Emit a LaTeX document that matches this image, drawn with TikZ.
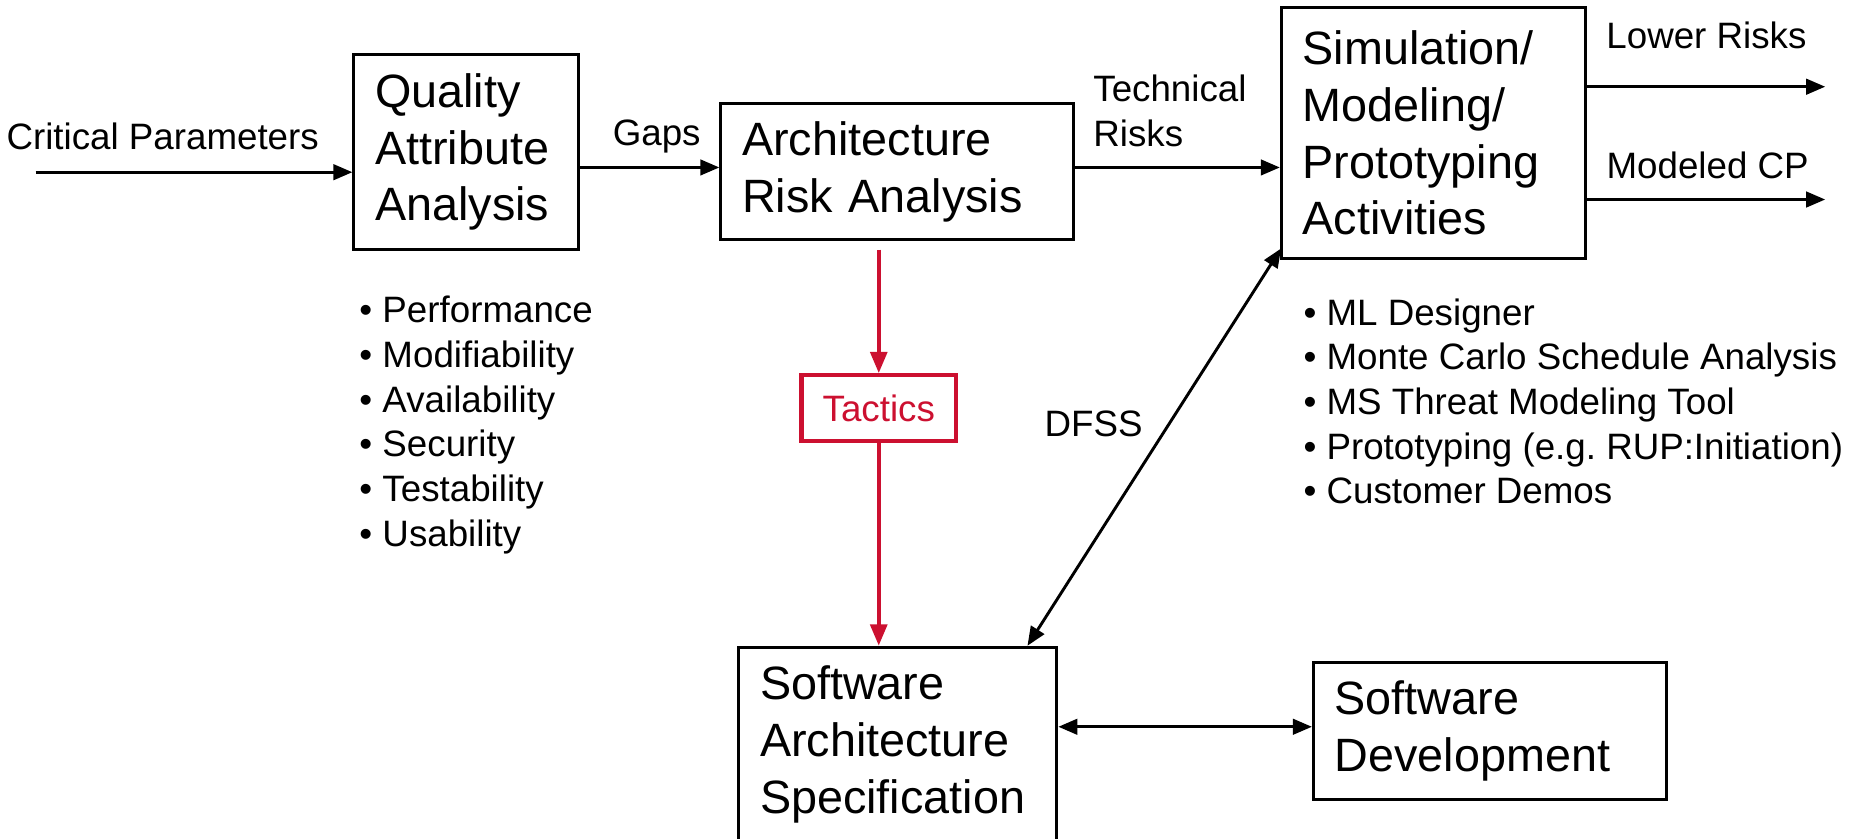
\documentclass[tikz,border=0pt]{standalone}
\usepackage{fontspec}
\setmainfont{Liberation Sans}
\usepackage{tikz}
\usetikzlibrary{arrows.meta}

\definecolor{tacticsred}{RGB}{204,16,48}
\frenchspacing

\begin{document}
\begin{tikzpicture}[
    box/.style={
        draw,
        line width=0.7pt,
        align=left,
        anchor=center,
        inner xsep=0.18cm,
        inner ysep=0pt,
        font=\fontsize{11.2}{13.6}\selectfont
    },
    tag/.style={
        align=left,
        inner sep=0pt,
        font=\fontsize{8.8}{10.7}\selectfont
    },
    arrow/.style={
        -{Triangle[length=0.16cm,width=0.13cm]},
        line width=0.7pt
    },
    twoway/.style={
        {Triangle[length=0.16cm,width=0.13cm]}-{Triangle[length=0.16cm,width=0.13cm]},
        line width=0.7pt
    },
    redarrow/.style={
        -{Triangle[length=0.18cm,width=0.14cm]},
        line width=1pt,
        draw=tacticsred
    }
]
\useasboundingbox (0,0) rectangle (15.68,-7.06);

% main boxes
\node[box, text width=1.53cm, minimum height=1.64cm] (qaa) at (3.925,-1.28)
{Quality\\Attribute\\Analysis};

\node[box, text width=2.61cm, minimum height=1.15cm] (ara) at (7.555,-1.445)
{Architecture\\Risk Analysis};

\node[box, text width=2.20cm, minimum height=2.12cm] (smp) at (12.07,-1.12)
{Simulation/\\Modeling/\\Prototyping\\Activities};

\node[box, text width=2.32cm, minimum height=1.64cm] (sas) at (7.56,-6.27)
{Software\\Architecture\\Specification};

\node[box, text width=2.61cm, minimum height=1.15cm] (sd) at (12.545,-6.155)
{Software\\Development};

% tactics
\node[draw=tacticsred, line width=1pt, text=tacticsred, font=\fontsize{8.8}{10.7}\selectfont,
      minimum width=1.30cm, minimum height=0.55cm, inner sep=0pt] (tactics) at (7.40,-3.435)
{Tactics};

% labels
\node[tag] (cplabel) at (1.37,-1.15) {Critical Parameters};
\node[tag] (gapslabel) at (5.53,-1.15) {Gaps};
\node[tag, anchor=west] (techlabel) at (9.20,-0.935) {Technical\\Risks};
\node[tag] (lowlabel) at (14.37,-0.30) {Lower Risks};
\node[tag] (cpoutlabel) at (14.38,-1.39) {Modeled CP};
\node[tag] (dfsslabel) at (9.21,-3.57) {DFSS};

% bullet lists
\node[tag, anchor=west] (qalist) at (3.02,-3.58)
{\textbullet\ Performance\\
 \textbullet\ Modifiability\\
 \textbullet\ Availability\\
 \textbullet\ Security\\
 \textbullet\ Testability\\
 \textbullet\ Usability};

\node[tag, anchor=west] (toollist) at (10.97,-3.38)
{\textbullet\ ML Designer\\
 \textbullet\ Monte Carlo Schedule Analysis\\
 \textbullet\ MS Threat Modeling Tool\\
 \textbullet\ Prototyping (e.g. RUP:Initiation)\\
 \textbullet\ Customer Demos};

% free ends
\coordinate (cpin) at (0.30,-1.45);
\coordinate (lowout) at (15.37,-0.73);
\coordinate (cpout) at (15.37,-1.68);

% connections
\draw[arrow] (cpin) -- (qaa.west |- cpin);
\draw[arrow] ([yshift=0.035cm]qaa.east |- ara.west) -- ([yshift=0.035cm]ara.west);
\draw[arrow] ([yshift=0.035cm]ara.east) -- ([yshift=0.035cm]smp.west |- ara.east);
\draw[arrow] (smp.east |- lowout) -- (lowout);
\draw[arrow] (smp.east |- cpout) -- (cpout);

\draw[redarrow] ([yshift=-0.07cm]tactics.north |- ara.south) -- (tactics.north);
\draw[redarrow] (tactics.south) -- (tactics.south |- sas.north);

\draw[twoway] ([shift={(0.01,0.10)}]smp.south west) -- ([xshift=-0.26cm]sas.north east);
\draw[twoway] ([yshift=0.035cm]sas.east |- sd.west) -- ([yshift=0.035cm]sd.west);

\end{tikzpicture}
\end{document}
